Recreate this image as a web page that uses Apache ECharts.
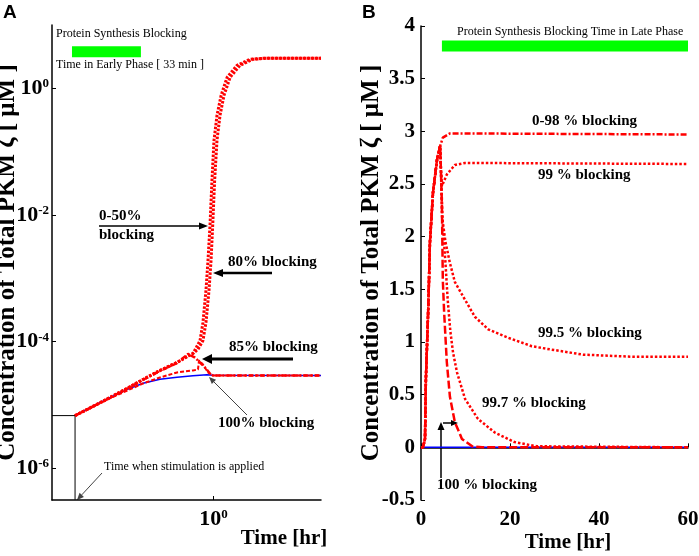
<!DOCTYPE html>
<html>
<head>
<meta charset="utf-8">
<script src="https://cdn.jsdelivr.net/npm/echarts@6/dist/echarts.min.js"></script>
<style>
  html, body { margin: 0; padding: 0; background: #fff; }
  #chart { width: 699px; height: 556px; }
</style>
</head>
<body>
<div id="chart"></div>
<script>
// ---- panel A data (log-log, time in hr, concentration in uM) ----
var stimLineA = [[0.0316, 6.8e-6], [0.0518, 6.8e-6], [0.0518, 3.2e-7]];
var noBlockA = [[0.0518, 6.8e-6], [0.076, 9.6e-6], [0.109, 1.3e-5], [0.157, 1.75e-5], [0.222, 2.2e-5],
  [0.319, 2.55e-5], [0.459, 2.75e-5], [0.646, 2.9e-5], [0.87, 3.0e-5], [1.0, 2.95e-5], [10, 2.92e-5]];
var block0_50A = [[0.0518, 6.8e-6], [0.076, 9.5e-6], [0.109, 1.31e-5], [0.157, 1.82e-5], [0.222, 2.53e-5],
  [0.319, 3.51e-5], [0.459, 4.69e-5], [0.569, 5.83e-5], [0.646, 6.51e-5], [0.751, 1.04e-4], [0.80, 2.01e-4],
  [0.853, 6.44e-4], [0.891, 1.92e-3], [0.929, 6.6e-3], [0.97, 0.0352], [1.013, 0.151], [1.08, 0.374],
  [1.18, 0.775], [1.34, 1.49], [1.66, 2.31], [2.19, 2.87], [2.89, 2.98], [10, 2.98]];
var block80A = [[0.0518, 6.8e-6], [0.076, 9.5e-6], [0.109, 1.31e-5], [0.157, 1.82e-5], [0.222, 2.53e-5],
  [0.319, 3.51e-5], [0.459, 4.69e-5], [0.569, 5.83e-5], [0.646, 6.51e-5], [0.72, 7.6e-5], [0.80, 1.04e-4],
  [0.853, 2.01e-4], [0.91, 6.44e-4], [0.951, 1.92e-3], [0.984, 6.6e-3], [1.027, 0.0352], [1.08, 0.151],
  [1.152, 0.374], [1.255, 0.775], [1.43, 1.49], [1.77, 2.31], [2.33, 2.87], [3.08, 2.98], [10, 2.98]];
var block85A = [[0.0518, 6.8e-6], [0.076, 9.5e-6], [0.109, 1.3e-5], [0.157, 1.8e-5], [0.222, 2.5e-5],
  [0.319, 3.45e-5], [0.459, 4.6e-5], [0.581, 6.4e-5], [0.675, 5.62e-5], [0.751, 4.69e-5], [0.836, 3.91e-5],
  [0.929, 3.15e-5], [0.991, 2.92e-5], [10, 2.92e-5]];
var block90A = [[0.0518, 6.8e-6], [0.109, 1.27e-5], [0.222, 2.19e-5], [0.319, 2.72e-5], [0.459, 3.26e-5],
  [0.646, 3.51e-5], [0.719, 3.64e-5], [0.735, 5.05e-5], [0.80, 4.36e-5], [0.891, 3.26e-5], [0.991, 2.92e-5],
  [10, 2.92e-5]];
var greenBarA = [[0.0485, 3.77], [0.212, 3.77]];
var yTicksA = [1e-6, 1e-4, 1e-2, 1];
var xTicksA = [1];

// ---- panel B data (linear, time in hr, concentration in uM) ----
var riseB = [[0, 0], [0.45, 0], [0.9, 0.08], [1.1, 0.65], [1.6, 1.28], [1.8, 1.59], [2.0, 1.94],
  [2.7, 2.42], [3.6, 2.73], [4.3, 2.86]];
var noStimB = [[0, 0], [60, 0]];
var block0_98B = [[4.9, 2.94], [6.5, 2.98], [10, 2.98], [60, 2.97]];
var block99B = [[4.5, 2.62], [4.7, 2.48], [5.8, 2.59], [7.6, 2.68], [9.9, 2.70], [60, 2.69]];
var block99_5B = [[4.5, 2.6], [4.7, 2.2], [5.5, 1.95], [6.5, 1.75], [7.6, 1.57], [9.9, 1.40], [12.1, 1.24],
  [15.1, 1.12], [19.6, 1.04], [24.9, 0.96], [29, 0.93], [36.4, 0.88], [47.6, 0.86], [60, 0.86]];
var block99_7B = [[4.5, 2.6], [4.9, 2.1], [5.5, 1.75], [6.0, 1.4], [6.6, 1.1], [7.2, 0.9], [8.1, 0.71],
  [9.9, 0.46], [12.8, 0.27], [16.6, 0.14], [21, 0.05], [26, 0.01], [60, 0]];
var block100B = [[4.5, 2.6], [4.7, 2.3], [4.9, 1.59], [5.2, 1.28], [5.8, 0.81], [6.5, 0.48], [7.6, 0.24],
  [9.2, 0.08], [11.5, 0.01], [13.7, 0], [60, 0]];
var greenBarB = [[4.7, 3.81], [60, 3.81]];

var serif = '"Liberation Serif", "Times New Roman", serif';
var RED = '#ff0000';
var myChart = echarts.init(document.getElementById('chart'));

function arrow(x1, y1, x2, y2, w, hl, hw, col) {
  var dx = x2 - x1, dy = y2 - y1, L = Math.sqrt(dx * dx + dy * dy);
  var ux = dx / L, uy = dy / L, bx = x2 - ux * hl, by = y2 - uy * hl;
  return [
    { type: 'line', shape: { x1: x1, y1: y1, x2: bx, y2: by }, style: { stroke: col, lineWidth: w } },
    { type: 'polygon', shape: { points: [[x2, y2], [bx - uy * hw, by + ux * hw], [bx + uy * hw, by - ux * hw]] },
      style: { fill: col } }
  ];
}
function txt(x, y, s, font) {
  return { type: 'text', x: x, y: y, style: { text: s, font: font, fill: '#000' } };
}
var small = '12px ' + serif, lab = 'bold 15px ' + serif;

function redLine(name, data, xi, w, dash) {
  return { name: name, type: 'line', xAxisIndex: xi, yAxisIndex: xi, data: data, showSymbol: false,
    lineStyle: { color: RED, width: w, type: dash, cap: 'butt' }, z: 3 };
}

var graphics = [
  { type: 'text', x: 3, y: 3, style: { text: 'A', font: 'bold 19px "Liberation Sans", Arial', fill: '#000' } },
  { type: 'text', x: 362, y: 3, style: { text: 'B', font: 'bold 19px "Liberation Sans", Arial', fill: '#000' } },
  txt(56, 28, 'Protein Synthesis Blocking', small),
  txt(56, 59, 'Time in Early Phase [ 33 min ]', small),
  txt(99, 209, '0-50%', lab),
  txt(99, 228, 'blocking', lab),
  txt(228, 255, '80% blocking', lab),
  txt(229, 340, '85% blocking', lab),
  txt(218, 416, '100% blocking', lab),
  txt(104, 461, 'Time when stimulation is applied', small),
  txt(457, 26, 'Protein Synthesis Blocking Time in Late Phase', small),
  txt(532, 114, '0-98 % blocking', lab),
  txt(538, 168, '99 % blocking', lab),
  txt(538, 326, '99.5 % blocking', lab),
  txt(482, 396, '99.7 % blocking', lab),
  txt(437, 478, '100 % blocking', lab)
].concat(
  arrow(99, 226, 208, 226, 1.5, 9, 3.5, '#000'),
  arrow(272, 273, 213, 273, 2.5, 10, 4, '#000'),
  arrow(293, 359, 202, 359, 3, 10, 5, '#000'),
  arrow(247, 415, 209, 377, 1, 7, 3, '#444'),
  arrow(102, 473, 77, 500, 1, 7, 3, '#444'),
  arrow(441, 478, 441, 422, 1.5, 8, 3.5, '#000'),
  arrow(443, 423, 458, 423, 1.5, 7, 3, '#000')
);

var axisLineStyle = { lineStyle: { color: '#000', width: 1.5 } };
var supRich = {
  b: { fontFamily: serif, fontWeight: 'bold', fontSize: 22, color: '#000', verticalAlign: 'bottom' },
  s: { fontFamily: serif, fontWeight: 'bold', fontSize: 13, color: '#000', verticalAlign: 'top' }
};
function powLabel(v) {
  return '{b|10}{s|' + Math.round(Math.log10(v)) + '}';
}
var yName = 'Concentration of Total PKM ζ [ μM ]';
var yNameStyle = { fontFamily: serif, fontWeight: 'bold', fontSize: 25, color: '#000' };

option = {
  animation: false,
  backgroundColor: '#fff',
  grid: [
    { left: 52, right: 378, top: 25, bottom: 56, outerBoundsMode: 'none', containLabel: false },
    { left: 421, right: 11, top: 26, bottom: 56, outerBoundsMode: 'none', containLabel: false }
  ],
  xAxis: [
    { type: 'log', gridIndex: 0, min: Math.pow(10, -1.5), max: 10,
      axisLine: axisLineStyle, splitLine: { show: false }, minorTick: { show: false },
      axisTick: { inside: true, length: 4, customValues: xTicksA, lineStyle: { color: '#000' } },
      axisLabel: { customValues: xTicksA, formatter: powLabel, rich: supRich, margin: 8 },
      name: 'Time [hr]', nameLocation: 'middle', nameGap: 28, nameMoveOverlap: false,
      nameTextStyle: { fontFamily: serif, fontWeight: 'bold', fontSize: 21, color: '#000', padding: [0, 0, 0, 195] } },
    { type: 'value', gridIndex: 1, min: 0, max: 60, interval: 20,
      axisLine: axisLineStyle, splitLine: { show: false },
      axisTick: { inside: true, length: 4, lineStyle: { color: '#000' } },
      axisLabel: { fontFamily: serif, fontWeight: 'bold', fontSize: 21, color: '#000', margin: 9 },
      name: 'Time [hr]', nameLocation: 'middle', nameGap: 32, nameMoveOverlap: false,
      nameTextStyle: { fontFamily: serif, fontWeight: 'bold', fontSize: 21, color: '#000', padding: [0, 0, 0, 27] } }
  ],
  yAxis: [
    { type: 'log', gridIndex: 0, min: Math.pow(10, -6.5), max: 10,
      axisLine: axisLineStyle, splitLine: { show: false }, minorTick: { show: false },
      axisTick: { inside: true, length: 4, customValues: yTicksA, lineStyle: { color: '#000' } },
      axisLabel: { customValues: yTicksA, formatter: powLabel, rich: supRich, margin: 3 },
      name: yName, nameLocation: 'middle', nameGap: 32, nameMoveOverlap: false, nameTextStyle: yNameStyle },
    { type: 'value', gridIndex: 1, min: -0.5, max: 4, interval: 0.5,
      axisLine: axisLineStyle, splitLine: { show: false },
      axisTick: { inside: true, length: 4, lineStyle: { color: '#000' } },
      axisLabel: { fontFamily: serif, fontWeight: 'bold', fontSize: 21, color: '#000', margin: 6 },
      name: yName, nameLocation: 'middle', nameGap: 37, nameMoveOverlap: false, nameTextStyle: yNameStyle }
  ],
  series: [
    { name: 'stimulation', type: 'line', xAxisIndex: 0, yAxisIndex: 0, data: stimLineA, showSymbol: false,
      lineStyle: { color: '#000', width: 1 } },
    { name: 'no blocking control A', type: 'line', xAxisIndex: 0, yAxisIndex: 0, data: noBlockA, showSymbol: false,
      lineStyle: { color: '#0000ff', width: 1.5 }, z: 2 },
    redLine('90% A', block90A, 0, 2, [4, 2]),
    redLine('85% A', block85A, 0, 2.5, [5, 2, 2, 2]),
    redLine('80% A', block80A, 0, 3, [2.5, 1.5]),
    redLine('0-50% A', block0_50A, 0, 3, [2.5, 1.5]),
    { name: 'green A', type: 'line', xAxisIndex: 0, yAxisIndex: 0, data: greenBarA, showSymbol: false,
      lineStyle: { color: '#00ff00', width: 11, cap: 'butt' } },
    { name: 'control B', type: 'line', xAxisIndex: 1, yAxisIndex: 1, data: noStimB, showSymbol: false,
      lineStyle: { color: '#0000ff', width: 1.5 }, z: 2 },
    redLine('0-98% B', riseB.concat(block0_98B), 1, 2.5, [6, 2, 2, 2]),
    redLine('99% B', riseB.concat(block99B), 1, 2.5, [2.5, 2]),
    redLine('99.5% B', riseB.concat(block99_5B), 1, 2.5, [2.5, 2]),
    redLine('99.7% B', riseB.concat(block99_7B), 1, 2.5, [2.5, 2]),
    redLine('100% B', riseB.concat(block100B), 1, 2.5, [8, 3]),
    { name: 'green B', type: 'line', xAxisIndex: 1, yAxisIndex: 1, data: greenBarB, showSymbol: false,
      lineStyle: { color: '#00ff00', width: 11, cap: 'butt' } }
  ],
  graphic: graphics
};

myChart.setOption(option);
</script>
</body>
</html>
